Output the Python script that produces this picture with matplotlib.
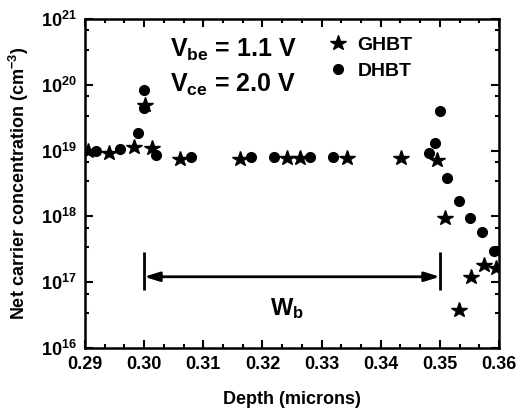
import matplotlib
matplotlib.use("Agg")
import matplotlib.pyplot as plt
from matplotlib.ticker import LogLocator, AutoMinorLocator, FuncFormatter
import numpy as np

plt.rcParams["font.family"] = ["Liberation Sans", "DejaVu Sans"]
plt.rcParams["font.weight"] = "bold"
plt.rcParams["mathtext.fontset"] = "custom"
plt.rcParams["mathtext.rm"] = "Liberation Sans:bold"
plt.rcParams["mathtext.bf"] = "Liberation Sans:bold"
plt.rcParams["mathtext.it"] = "Liberation Sans:bold"

# depth (microns) and net carrier concentration (cm^-3)
ghbt_x = [0.2905, 0.2941, 0.2982, 0.3002, 0.3013, 0.3061, 0.3162, 0.3242, 0.3263,
          0.3343, 0.3434, 0.3495, 0.3508, 0.3533, 0.3553, 0.3574, 0.3595]
ghbt_y = [9.7e18, 9.3e18, 1.15e19, 5.0e19, 1.11e19, 7.45e18, 7.4e18, 7.6e18, 7.6e18,
          7.6e18, 7.6e18, 7.2e18, 9.6e17, 3.8e16, 1.21e17, 1.82e17, 1.63e17]

dhbt_x = [0.2919, 0.2959, 0.2989, 0.2999, 0.3000, 0.3020, 0.3079, 0.3180, 0.3220,
          0.3280, 0.3320, 0.3481, 0.3491, 0.3501, 0.3512, 0.3532, 0.3551, 0.3571, 0.3592]
dhbt_y = [1.0e19, 1.05e19, 1.83e19, 4.4e19, 8.3e19, 8.6e18, 8.1e18, 8.1e18, 8.1e18,
          8.1e18, 8.1e18, 9.1e18, 1.32e19, 4.0e19, 3.86e18, 1.71e18, 9.6e17, 5.85e17, 2.98e17]

# base width marker
wb_left, wb_right = 0.300, 0.350
wb_y = 1.21e17
wb_bar = (7.6e16, 2.9e17)

fig = plt.figure(figsize=(5.2, 4.09), dpi=100)
ax = fig.add_axes([0.1635, 0.1491, 0.7961, 0.8044])

ax.plot(ghbt_x, ghbt_y, linestyle="none", marker="*", ms=11.5, color="black", label="GHBT")
ax.plot(dhbt_x, dhbt_y, linestyle="none", marker="o", ms=7, color="black", label="DHBT")

ax.set_yscale("log")
ax.set_xlim(0.29, 0.36)
ax.set_ylim(1e16, 1e21)

ax.set_xticks(np.arange(0.29, 0.3601, 0.01))
ax.xaxis.set_major_formatter(FuncFormatter(lambda v, p: f"{v:.2f}"))
ax.xaxis.set_minor_locator(AutoMinorLocator(3))
ax.yaxis.set_major_locator(LogLocator(base=10, numticks=10))
ax.yaxis.set_minor_locator(LogLocator(base=10, subs=(3.4, 6.7), numticks=20))
ax.yaxis.set_major_formatter(FuncFormatter(lambda v, p: r"$\mathrm{10^{%d}}$" % round(np.log10(v))))

ax.tick_params(which="both", direction="in", top=True, right=True, width=1.5, labelsize=13)
ax.tick_params(which="major", length=6, pad=6)
ax.tick_params(which="minor", length=3)
for s in ax.spines.values():
    s.set_linewidth(1.8)

ax.set_xlabel("Depth (microns)", fontsize=13, fontweight="bold", labelpad=13)
ax.set_ylabel(r"Net carrier concentration (cm$^{\mathrm{-3}}$)", fontsize=13, fontweight="bold", labelpad=7)

# W_b arrow
ax.annotate("", xy=(wb_left, wb_y), xytext=(wb_right, wb_y),
            arrowprops=dict(arrowstyle="<|-|>,head_length=0.9,head_width=0.28",
                            color="black", lw=2, shrinkA=0, shrinkB=0))
ax.vlines([wb_left, wb_right], wb_bar[0], wb_bar[1], color="black", lw=2)
ax.text(0.447, 0.100, r"W$_{\mathrm{b}}$", transform=ax.transAxes, fontsize=17,
        fontweight="bold", va="baseline")

ax.text(0.205, 0.8845, r"V$_{\mathrm{be}}$ = 1.1 V", transform=ax.transAxes, fontsize=18,
        fontweight="bold", va="baseline")
ax.text(0.205, 0.779, r"V$_{\mathrm{ce}}$ = 2.0 V", transform=ax.transAxes, fontsize=18,
        fontweight="bold", va="baseline")

ax.legend(loc="upper left", bbox_to_anchor=(0.588, 0.948), frameon=False, fontsize=14,
          borderpad=0, borderaxespad=0, handlelength=1, handletextpad=0.5,
          labelspacing=0.45, numpoints=1)

fig.savefig("out.png", dpi=100)
